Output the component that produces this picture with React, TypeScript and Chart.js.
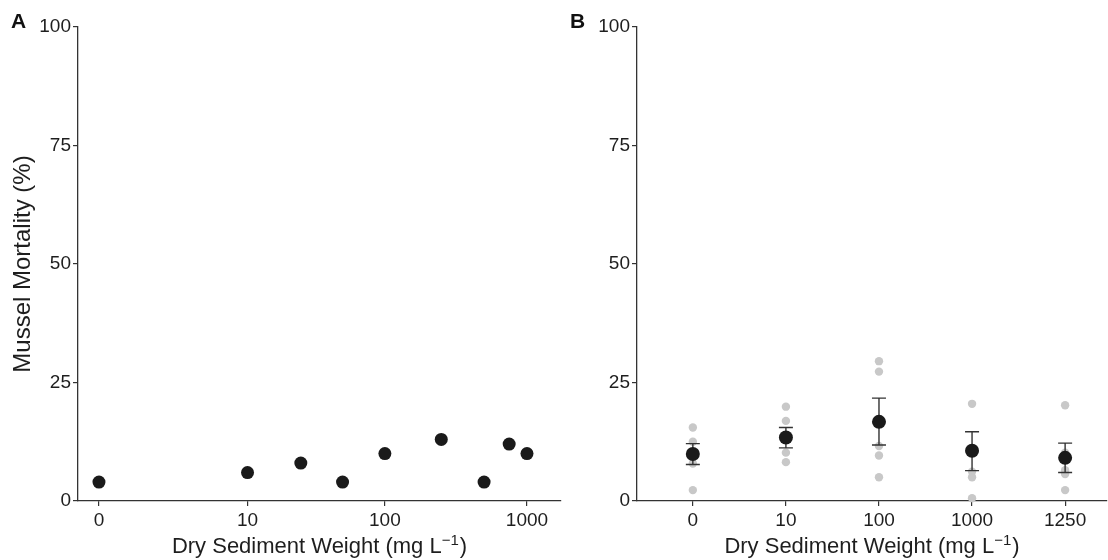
import React, { useEffect, useRef } from "react";
import { Chart, registerables } from "chart.js";

Chart.register(...registerables);

// ---------- Data ----------
// Panel A: mortality by sediment concentration (pseudo-log axis)
const concA = [0, 10, 25, 50, 100, 250, 500, 750, 1000];
const mortA = [4, 6, 8, 4, 10, 13, 4, 12, 10];
const xTickValsA = [0, 10, 100, 1000];

// Panel B: replicate values, means and error bars per treatment
const catsB = ["0", "10", "100", "1000", "1250"];
const rep0 = [15.5, 12.5, 10.0, 7.9, 2.3];
const rep10 = [19.9, 16.9, 13.0, 10.2, 8.2];
const rep100 = [29.5, 27.3, 11.6, 9.6, 5.0];
const rep1000 = [20.5, 6.2, 5.0, 0.6];
const rep1250 = [20.2, 10.2, 6.5, 5.7, 2.3];
const repsB = [rep0, rep10, rep100, rep1000, rep1250];
const meanB = [9.9, 13.4, 16.7, 10.6, 9.1];
const upperB = [12.1, 15.5, 21.7, 14.6, 12.2];
const lowerB = [7.7, 11.2, 11.8, 6.4, 6.0];

const yTickVals = [0, 25, 50, 75, 100];

// ---------- Styles ----------
const FONT = "'Liberation Sans', Arial, Helvetica, sans-serif";
const TXT = "#1e1e1e";
const AX = "#333333";
const X_TITLE_MAIN = "Dry Sediment Weight (mg L";
const X_TITLE_SUP = "\u22121";
const X_TITLE_END = ")";

const tf = (v: number) => Math.log10(v + 1);

function yScale(showTitle: boolean, width: number) {
  return {
    type: "linear",
    min: 0,
    max: 100,
    afterBuildTicks: (s: any) => {
      s.ticks = yTickVals.map((v) => ({ value: v }));
    },
    ticks: { font: { family: FONT, size: 19 }, color: TXT, padding: 2 },
    grid: {
      display: true,
      drawOnChartArea: false,
      drawTicks: true,
      tickLength: 5,
      color: AX,
      lineWidth: 1.2,
    },
    border: { display: true, color: AX, width: 1.3 },
    title: {
      display: showTitle,
      text: "Mussel Mortality (%)",
      font: { family: FONT, size: 24, lineHeight: 1.2 },
      color: TXT,
      padding: { top: 9, bottom: 0 },
    },
    afterFit: (s: any) => {
      s.width = width;
    },
  };
}

function xScale(min: number, max: number, vals: number[], labels: string[]) {
  return {
    type: "linear",
    min,
    max,
    afterBuildTicks: (s: any) => {
      s.ticks = vals.map((v) => ({ value: v }));
    },
    ticks: {
      font: { family: FONT, size: 19 },
      color: TXT,
      padding: 3,
      autoSkip: false,
      maxRotation: 0,
      callback: (_v: any, i: number) => labels[i],
    },
    grid: {
      display: true,
      drawOnChartArea: false,
      drawTicks: true,
      tickLength: 5,
      color: AX,
      lineWidth: 1.2,
    },
    border: { display: true, color: AX, width: 1.3 },
    title: { display: false },
    afterFit: (s: any) => {
      s.height = 59;
      s.paddingLeft = 0;
      s.paddingRight = 0;
    },
  };
}

// Panel letter + x-axis title with a real superscript
function decorPlugin(letter: string, lx: number, ly: number) {
  return {
    id: "decor" + letter,
    afterDraw(chart: any) {
      const ctx = chart.ctx;
      const area = chart.chartArea;
      ctx.save();
      ctx.font = `bold 21px ${FONT}`;
      ctx.fillStyle = "#111";
      ctx.textBaseline = "alphabetic";
      ctx.textAlign = "left";
      ctx.fillText(letter, lx, ly);

      const mainFont = `22px ${FONT}`;
      const supFont = `15px ${FONT}`;
      ctx.font = mainFont;
      const w1 = ctx.measureText(X_TITLE_MAIN).width;
      const w3 = ctx.measureText(X_TITLE_END).width;
      ctx.font = supFont;
      const w2 = ctx.measureText(X_TITLE_SUP).width;
      const total = w1 + w2 + w3 + 1;
      const cx = (area.left + area.right) / 2;
      let x = cx - total / 2;
      const base = 553;
      ctx.fillStyle = TXT;
      ctx.font = mainFont;
      ctx.fillText(X_TITLE_MAIN, x, base);
      x += w1;
      ctx.font = supFont;
      ctx.fillText(X_TITLE_SUP, x, base - 8);
      x += w2 + 1;
      ctx.font = mainFont;
      ctx.fillText(X_TITLE_END, x, base);
      ctx.restore();
    },
  };
}

const errorBarPlugin = {
  id: "errorBars",
  beforeDatasetDraw(chart: any, args: any) {
    if (args.index !== 1) return;
    const xs = chart.scales.x;
    const ys = chart.scales.y;
    const ctx = chart.ctx;
    ctx.save();
    ctx.strokeStyle = AX;
    ctx.lineWidth = 1.4;
    meanB.forEach((_m, i) => {
      const px = xs.getPixelForValue(i);
      const top = ys.getPixelForValue(upperB[i]);
      const bot = ys.getPixelForValue(lowerB[i]);
      ctx.beginPath();
      ctx.moveTo(px, top);
      ctx.lineTo(px, bot);
      ctx.moveTo(px - 7, top);
      ctx.lineTo(px + 7, top);
      ctx.moveTo(px - 7, bot);
      ctx.lineTo(px + 7, bot);
      ctx.stroke();
    });
    ctx.restore();
  },
};

function PanelA() {
  const ref = useRef<HTMLCanvasElement>(null);
  useEffect(() => {
    if (!ref.current) return;
    const chart = new Chart(ref.current, {
      type: "scatter",
      data: {
        datasets: [
          {
            data: concA.map((c, i) => ({ x: tf(c), y: mortA[i] })),
            backgroundColor: "#1a1a1a",
            borderWidth: 0,
            pointRadius: 6.5,
            clip: false,
          } as any,
        ],
      },
      options: {
        responsive: false,
        animation: false,
        layout: {
          autoPadding: false,
          padding: { top: 27, right: 1, left: 0, bottom: 0 },
        },
        plugins: { legend: { display: false }, tooltip: { enabled: false } },
        scales: {
          x: xScale(
            -0.147,
            3.239,
            xTickValsA.map(tf),
            xTickValsA.map(String)
          ) as any,
          y: yScale(true, 78) as any,
        },
      },
      plugins: [decorPlugin("A", 11, 28)],
    });
    return () => chart.destroy();
  }, []);
  return (
    <canvas
      ref={ref}
      width={562}
      height={560}
      style={{ position: "absolute", left: 0, top: 0, width: 562, height: 560 }}
    />
  );
}

function PanelB() {
  const ref = useRef<HTMLCanvasElement>(null);
  useEffect(() => {
    if (!ref.current) return;
    const chart = new Chart(ref.current, {
      type: "scatter",
      data: {
        datasets: [
          {
            data: repsB.flatMap((arr, i) => arr.map((v) => ({ x: i, y: v }))),
            backgroundColor: "#c8c8c8",
            borderWidth: 0,
            pointRadius: 4.2,
            clip: false,
            order: 2,
          } as any,
          {
            data: meanB.map((m, i) => ({ x: i, y: m })),
            backgroundColor: "#1a1a1a",
            borderWidth: 0,
            pointRadius: 7,
            clip: false,
            order: 1,
          } as any,
        ],
      },
      options: {
        responsive: false,
        animation: false,
        layout: {
          autoPadding: false,
          padding: { top: 27, right: 1, left: 0, bottom: 0 },
        },
        plugins: { legend: { display: false }, tooltip: { enabled: false } },
        scales: {
          x: xScale(-0.6, 4.45, catsB.map((_c, i) => i), catsB) as any,
          y: yScale(false, 75) as any,
        },
      },
      plugins: [errorBarPlugin, decorPlugin("B", 8, 28)],
    });
    return () => chart.destroy();
  }, []);
  return (
    <canvas
      ref={ref}
      width={546}
      height={560}
      style={{ position: "absolute", left: 562, top: 0, width: 546, height: 560 }}
    />
  );
}

export default function App() {
  return (
    <div
      style={{
        position: "fixed",
        left: 0,
        top: 0,
        width: 1108,
        height: 560,
        background: "#ffffff",
        overflow: "hidden",
      }}
    >
      <PanelA />
      <PanelB />
    </div>
  );
}
